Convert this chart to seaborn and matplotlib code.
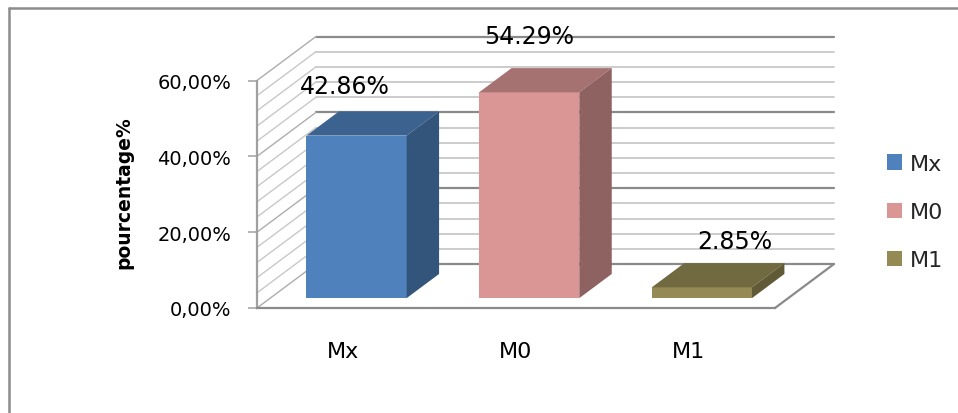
import numpy as np
import pandas as pd
import matplotlib
matplotlib.use("Agg")
import matplotlib.pyplot as plt
import seaborn as sns
from matplotlib.patches import Polygon
from matplotlib.lines import Line2D
from matplotlib.transforms import IdentityTransform, ScaledTranslation

# ---- data ----
categories = ["Mx", "M0", "M1"]
percentages = [42.86, 54.29, 2.85]
value_labels = ["42.86%", "54.29%", "2.85%"]
y_ticks = [0, 20, 40, 60]
y_tick_labels = ["0,00%", "20,00%", "40,00%", "60,00%"]
minor_grid = list(range(0, 61, 4))
y_label = "pourcentage%"

# ---- style ----
front_colors = ["#4F81BD", "#D99694", "#948A54"]
top_colors = ["#3C6290", "#A57271", "#716940"]
side_colors = ["#33547B", "#8D6260", "#605A37"]
label_offsets = [(-28, 38), (-16, 44), (17, 34)]  # pixel offsets of value labels

W, H, DPI = 958, 414, 100
sns.set_theme(style="white")
plt.rcParams["font.family"] = ["DejaVu Sans"]

fig = plt.figure(figsize=(W / DPI, H / DPI), dpi=DPI)
fig.patch.set_facecolor("white")
ax = fig.add_axes([257 / W, 105 / H, 518 / W, 227.5 / H])
ax.patch.set_visible(False)

df = pd.DataFrame({"cat": categories, "val": percentages})
sns.barplot(data=df, x="cat", y="val", hue="cat", order=categories,
            hue_order=categories, palette=front_colors, saturation=1,
            width=0.58, linewidth=0, ax=ax, legend=True)
ax.set_xlim(-0.5, 2.5)
ax.set_ylim(0, 60)
ax.set_autoscale_on(False)

DEPTH = np.array([59.0, 44.0])
T_FRONT, T_BAR = 0.224, 0.55


def P(x, y, t):
    return ax.transData.transform((x, y)) + t * DEPTH


# walls and floor
for v in minor_grid:
    major = v % 20 == 0
    col = "#8A8A8A" if major else "#C4C4C4"
    lw = 1.6 if major else 1.2
    a, b = P(-0.5, v, 1), P(2.5, v, 1)
    ax.add_line(Line2D([a[0], b[0]], [a[1], b[1]], transform=IdentityTransform(),
                       color=col, lw=lw, zorder=0.3, clip_on=False))
    c, d = P(-0.5, v, 0), P(-0.5, v, 1)
    ax.add_line(Line2D([c[0], d[0]], [c[1], d[1]], transform=IdentityTransform(),
                       color="#ADADAD" if major else "#C8C8C8", lw=1.0,
                       zorder=0.3, clip_on=False))
a, b = P(2.5, 0, 0), P(2.5, 0, 1)
ax.add_line(Line2D([a[0], b[0]], [a[1], b[1]], transform=IdentityTransform(),
                   color="#8A8A8A", lw=1.6, zorder=0.3, clip_on=False))

# 3D bars
shift = ScaledTranslation(T_FRONT * DEPTH[0] / DPI, T_FRONT * DEPTH[1] / DPI,
                          fig.dpi_scale_trans)
bars = [p for c in ax.containers for p in c.patches
        if np.isfinite(p.get_height()) and p.get_height() > 0]
bars = sorted(bars, key=lambda p: p.get_x())
tb = T_FRONT + T_BAR
for bar in bars:
    x0 = bar.get_x()
    x1 = x0 + bar.get_width()
    h = bar.get_height()
    i = int(round((x0 + x1) / 2))
    bar.set_transform(ax.transData + shift)
    bar.set_zorder(2)
    top = [P(x0, h, T_FRONT), P(x1, h, T_FRONT), P(x1, h, tb), P(x0, h, tb)]
    side = [P(x1, 0, T_FRONT), P(x1, h, T_FRONT), P(x1, h, tb), P(x1, 0, tb)]
    ax.add_patch(Polygon(top, closed=True, facecolor=top_colors[i], lw=0,
                         transform=IdentityTransform(), zorder=2, clip_on=False))
    ax.add_patch(Polygon(side, closed=True, facecolor=side_colors[i], lw=0,
                         transform=IdentityTransform(), zorder=2, clip_on=False))
    cx = (x0 + x1) / 2
    anchor = P(cx, h, T_FRONT + T_BAR / 2)
    ax.annotate(value_labels[i], xy=(anchor[0], anchor[1]), xycoords="figure pixels",
                xytext=label_offsets[i], textcoords="offset pixels",
                ha="center", va="center", fontsize=17, color="black", zorder=4)

# axes styling
for s in ["top", "right"]:
    ax.spines[s].set_visible(False)
ax.spines["left"].set_color("#A0A0A0")
ax.spines["left"].set_linewidth(1.6)
ax.spines["bottom"].set_color("#8A8A8A")
ax.spines["bottom"].set_linewidth(1.6)
ax.set_yticks(y_ticks, y_tick_labels)
ax.tick_params(axis="y", left=True, length=6.5, width=1.1, color="#A0A0A0",
               pad=12, labelsize=14, labelcolor="black")
ax.set_xticks(range(len(categories)), categories)
ax.tick_params(axis="x", bottom=False, length=0, pad=24, labelsize=16,
               labelcolor="black")
ax.set_xlabel("")
ax.set_ylabel(y_label, fontsize=13.5, fontweight="bold", color="black")
ax.yaxis.label.set_va("center")
ax.yaxis.set_label_coords((124 - 257) / 518, (309 - 193) / 227.5)

# legend
old = ax.get_legend()
handles = old.legend_handles
labels = [t.get_text() for t in old.get_texts()]
old.remove()
ax.legend(handles, labels, loc="center left",
          bbox_to_anchor=(887 / W, (H - 213) / H), bbox_transform=fig.transFigure,
          frameon=False, fontsize=16, handlelength=0.68, handleheight=0.68,
          handletextpad=0.36, labelspacing=1.27, borderpad=0, borderaxespad=0)

# outer border
fig.add_artist(Line2D([9, W], [H - 9, H - 9], transform=IdentityTransform(),
                      color="#8C8C8C", lw=1.8))
fig.add_artist(Line2D([9, 9], [0, H - 9], transform=IdentityTransform(),
                      color="#8C8C8C", lw=1.8))

fig.savefig("out.png", dpi=DPI)
